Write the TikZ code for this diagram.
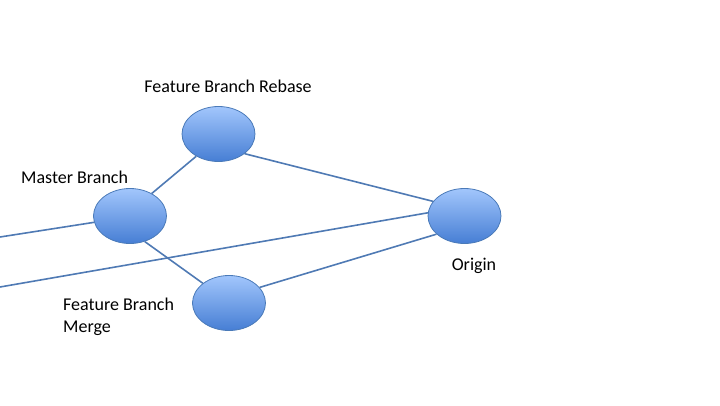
\documentclass[tikz,border=0pt]{standalone}
\usepackage{fontspec}
\setmainfont{Carlito}
\usetikzlibrary{positioning,shapes.geometric}
\definecolor{nodetop}{RGB}{162,198,252}
\definecolor{nodebottom}{RGB}{70,126,212}
\definecolor{nodeline}{RGB}{74,122,184}
\definecolor{edgeline}{RGB}{79,122,180}

\begin{document}
\begin{tikzpicture}[x=1pt, y=-1pt,
				commit/.style={ellipse, draw=nodeline, thick, top color=nodetop, bottom color=nodebottom, minimum width=73pt, minimum height=55pt, inner sep=0pt},
				label/.style={inner sep=0pt, font=\fontsize{18}{21.6}\selectfont}
			]
			\useasboundingbox (0,0) rectangle (720,405);
			\node[commit] (rebase) at (218.5,134) {};
			\node[commit] (master) at (130,216) {};
			\node[commit] (origin) at (464.5,216) {};
			\node[commit] (merge) at (229,303) {};
			\coordinate (left1) at (0,237);
			\coordinate (left2) at (0,287);
			\node[label, anchor=base] (rebaselabel) at (228,92) {Feature Branch Rebase};
			\node[label, anchor=base west] (masterlabel) at (21,183) {Master Branch};
			\node[label, anchor=base] (originlabel) at (474,270) {Origin};
			\node[label, anchor=north west, align=left] (mergelabel) at (63,298) {Feature Branch\\Merge};
			\begin{scope}[line width=1.6pt, draw=edgeline]
			\draw (left1) -- (master.190);
			\draw (left2) -- (origin.175);
			\draw (master.46) -- (rebase.225);
			\draw (rebase.323) -- (origin.155);
			\draw (master.300) -- (merge.143);
			\draw (merge.27) -- (origin.213);
			\end{scope}
			\end{tikzpicture}
\end{document}
